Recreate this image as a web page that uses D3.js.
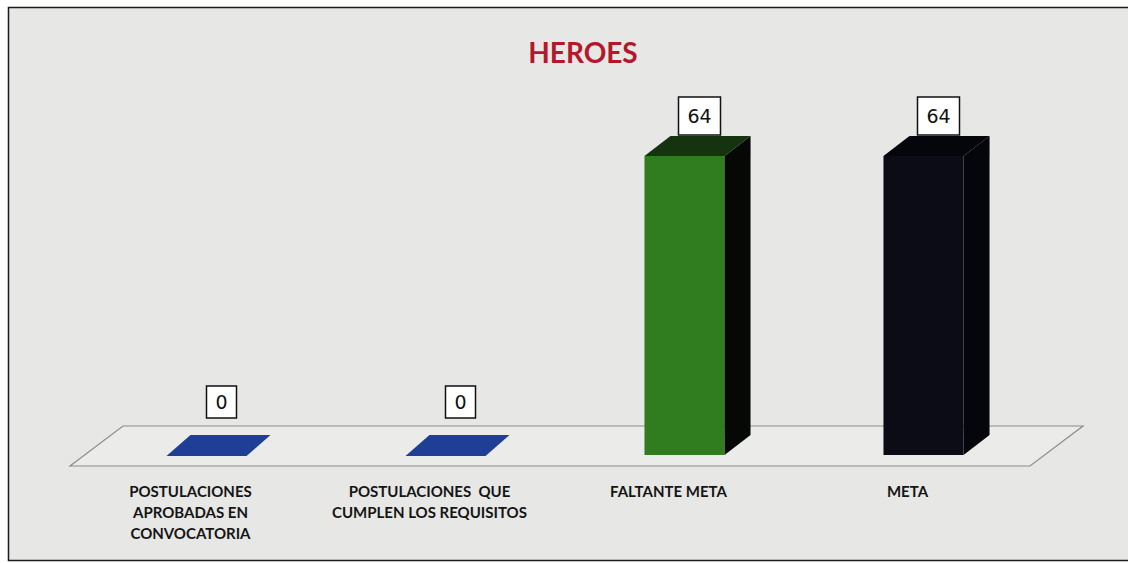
<!DOCTYPE html>
<html>
<head>
<meta charset="utf-8">
<script src="https://cdn.jsdelivr.net/npm/d3@7"></script>
<style>
  html, body { margin: 0; padding: 0; background: #ffffff; }
  svg { display: block; }
</style>
</head>
<body>
<svg id="chart" width="1128" height="563"></svg>
<script>
// ---- data ----
const title = "HEROES";
const categories = [
  "POSTULACIONES APROBADAS EN CONVOCATORIA",
  "POSTULACIONES  QUE CUMPLEN LOS REQUISITOS",
  "FALTANTE META",
  "META"
];
const categoryLines = [
  ["POSTULACIONES", "APROBADAS EN", "CONVOCATORIA"],
  ["POSTULACIONES  QUE", "CUMPLEN LOS REQUISITOS"],
  ["FALTANTE META"],
  ["META"]
];
const values = [0, 0, 64, 64];
const frontColors = ["#1f3f96", "#1f3f96", "#2f7d1e", "#0b0c16"];
const topColors   = ["#1f3f96", "#1f3f96", "#16330f", "#05060c"];
const sideColors  = ["#1f3f96", "#1f3f96", "#050805", "#05060c"];

// ---- layout ----
const W = 1128, H = 563;
const svg = d3.select("#chart");
const depthX = 26, depthY = 20;
const baseY = 455;

svg.append("rect").attr("x", 8.5).attr("y", 7.5).attr("width", 1130).attr("height", 553)
  .attr("fill", "#e7e7e6").attr("stroke", "#1a1a1a").attr("stroke-width", 1.5);

const x = d3.scaleBand().domain(categories).range([87, 1043])
  .paddingInner(0.665).paddingOuter(0.3325);
const y = d3.scaleLinear().domain([0, 64]).range([baseY, 156]);

// floor (parallelogram)
const floorFront = 466, floorBack = 426;
const fx0 = 70, fx1 = 1030;
svg.append("path")
  .attr("d", `M${fx0},${floorFront} L${fx0 + 53},${floorBack} L${fx1 + 53},${floorBack} L${fx1},${floorFront} Z`)
  .attr("fill", "#ebebea").attr("stroke", "#8c8c8c").attr("stroke-width", 1.2);

// title
svg.append("text").attr("x", 583).attr("y", 63).attr("text-anchor", "middle")
  .attr("font-family", "Lato, 'Open Sans', sans-serif").attr("font-weight", 700)
  .attr("font-size", 28).attr("fill", "#b3182c").text(title);

// bars
const g = svg.append("g");
categories.forEach((c, i) => {
  const x0 = x(c), bw = x.bandwidth(), x1 = x0 + bw;
  const yt = y(values[i]), yb = y(0);
  if (values[i] > 0) {
    g.append("rect").attr("x", x0).attr("y", yt).attr("width", bw).attr("height", yb - yt)
      .attr("fill", frontColors[i]);
    g.append("path").attr("d", `M${x1},${yt} L${x1 + depthX},${yt - depthY} L${x1 + depthX},${yb - depthY} L${x1},${yb} Z`)
      .attr("fill", sideColors[i]);
    g.append("path").attr("d", `M${x0},${yt} L${x0 + depthX},${yt - depthY} L${x1 + depthX},${yt - depthY} L${x1},${yt} Z`)
      .attr("fill", topColors[i]);
  } else {
    g.append("path").attr("d", `M${x0},${yb + 1} L${x0 + depthX - 2},${yb - depthY} L${x1 + depthX - 2},${yb - depthY} L${x1},${yb + 1} Z`)
      .attr("fill", topColors[i]);
  }
  // value label box
  const cx = x0 + bw / 2 + 15;
  const boxBottom = values[i] > 0 ? yt - depthY - 1 : yt - depthY - 17;
  const bwBox = values[i] > 0 ? 42 : 30, bhBox = values[i] > 0 ? 38 : 32;
  g.append("rect").attr("x", cx - bwBox / 2).attr("y", boxBottom - bhBox)
    .attr("width", bwBox).attr("height", bhBox)
    .attr("fill", "#ffffff").attr("stroke", "#111").attr("stroke-width", 1.5);
  g.append("text").attr("x", cx).attr("y", boxBottom - bhBox / 2 + 7)
    .attr("text-anchor", "middle").attr("font-family", "'DejaVu Sans', Verdana, sans-serif")
    .attr("font-size", 19).attr("fill", "#111").text(values[i]);

  // category label
  const lx = x0 + bw / 2 - 16;
  categoryLines[i].forEach((ln, k) => {
    svg.append("text").attr("x", lx).attr("y", 497 + k * 21)
      .attr("text-anchor", "middle").attr("font-family", "Lato, 'Open Sans', sans-serif")
      .attr("font-weight", 700).attr("font-size", 15).attr("fill", "#151515")
      .attr("xml:space", "preserve").style("white-space", "pre").text(ln);
  });
});
</script>
</body>
</html>
